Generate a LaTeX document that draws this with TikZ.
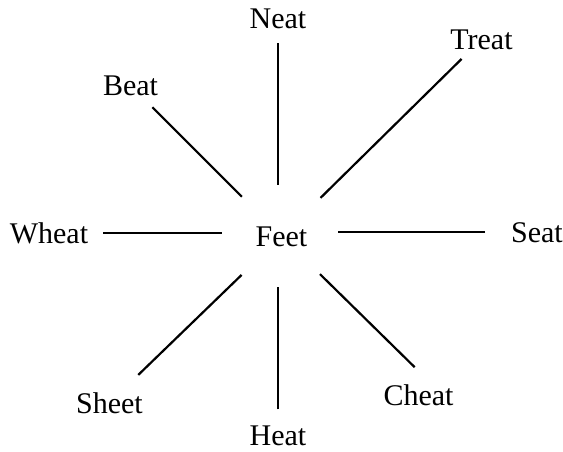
\documentclass[tikz,border=0pt]{standalone}
\usepackage{fontspec}
\setmainfont{Liberation Serif}
\begin{document}
\begin{tikzpicture}[x=1pt,y=-1pt,
  word/.style={font=\fontsize{30}{36}\selectfont, inner sep=0pt, anchor=base},
  spoke/.style={line width=2.2pt}]
\useasboundingbox (0,0) rectangle (563,451);
\node[word] (feet)  at (281.5,246) {Feet};
\node[word] (neat)  at (278,28)    {Neat};
\node[word] (treat) at (481.5,49)  {Treat};
\node[word] (beat)  at (130.5,95)  {Beat};
\node[word] (wheat) at (49,243)    {Wheat};
\node[word] (seat)  at (537,242)   {Seat};
\node[word] (sheet) at (109.5,413) {Sheet};
\node[word] (heat)  at (278,445)   {Heat};
\node[word] (cheat) at (418.5,405) {Cheat};
\draw[spoke, shorten <=25pt, shorten >=51pt] (neat.center) -- (neat.center |- feet.center);
\draw[spoke, shorten <=26pt, shorten >=51pt] (heat.center) -- (heat.center |- feet.center);
\draw[spoke, shorten <=54pt, shorten >=59.5pt] (wheat.center) -- (wheat.center -| feet.center);
\draw[spoke, shorten <=52pt, shorten >=56.5pt] (seat.center) -- (seat.center -| feet.center);
\draw[spoke, shorten <=54.8pt, shorten >=27.9pt] (feet.center) -- (treat.center);
\draw[spoke, shorten <=56pt, shorten >=31pt] (feet.center) -- (beat.center);
\draw[spoke, shorten <=55.5pt, shorten >=40pt] (feet.center) -- (sheet.center);
\draw[spoke, shorten <=54pt, shorten >=24pt] (feet.center) -- (cheat.39);
\end{tikzpicture}
\end{document}
